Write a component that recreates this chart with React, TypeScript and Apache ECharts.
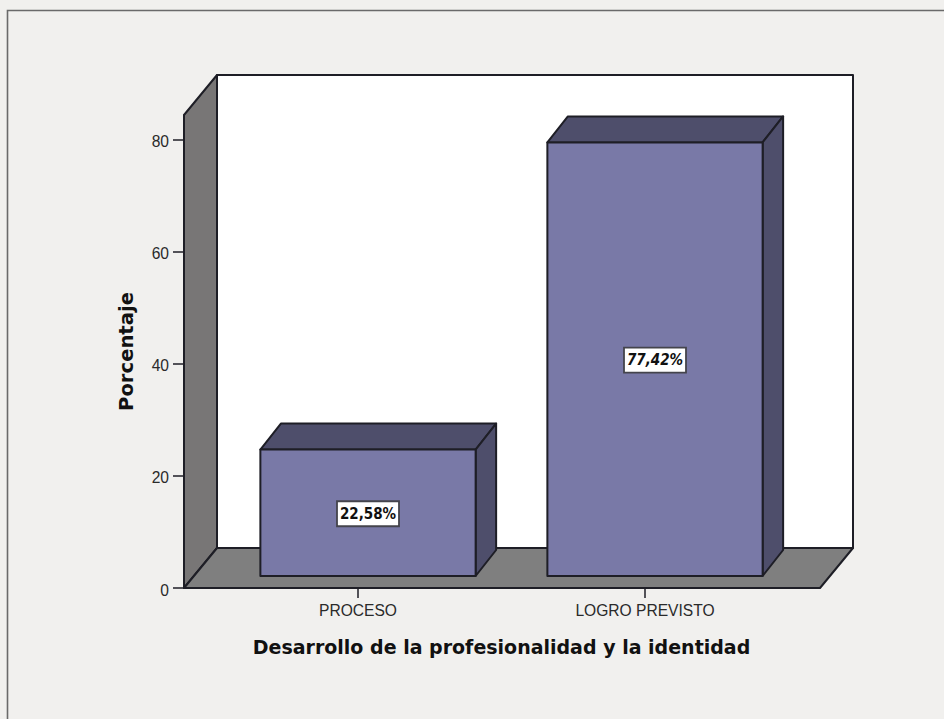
import React, { useEffect, useRef } from "react";
import * as echarts from "echarts";

const categories = ["PROCESO", "LOGRO PREVISTO"];
const values = [22.58, 77.42];
const valueLabels = ["22,58%", "77,42%"];
const labelItalic = [false, true];
const yTicks = [0, 20, 40, 60, 80];
const yMax = 84.46;
const xTitle = "Desarrollo de la profesionalidad y la identidad";
const yTitle = "Porcentaje";

const INK = "#1e1e26";
const WALL_DX = 33;
const WALL_DY = -40;
const BAR_DX = 20.5;
const BAR_DY = -26;
const BAR_LIFT = 12;
const BAR_SHIFT = 10;
const BAR_FRACTION = 0.75;

function renderBox(params: any, api: any) {
  const c = params.coordSys;
  const left = c.x - 30.5;
  const right = c.x + c.width + 31.5;
  const bottom = api.coord([0, 0])[1];
  const top = api.coord([0, api.value(1)])[1];
  const line = { stroke: INK, lineWidth: 2, lineJoin: "round" };
  return {
    type: "group",
    children: [
      {
        type: "polygon",
        shape: { points: [[left + WALL_DX, top + WALL_DY], [right + WALL_DX, top + WALL_DY], [right + WALL_DX, bottom + WALL_DY], [left + WALL_DX, bottom + WALL_DY]] },
        style: { fill: "#ffffff", ...line },
      },
      {
        type: "polygon",
        shape: { points: [[left, top], [left + WALL_DX, top + WALL_DY], [left + WALL_DX, bottom + WALL_DY], [left, bottom]] },
        style: { fill: "#787676", ...line },
      },
      {
        type: "polygon",
        shape: { points: [[left, bottom], [right, bottom], [right + WALL_DX, bottom + WALL_DY], [left + WALL_DX, bottom + WALL_DY]] },
        style: { fill: "#7f7f7f", ...line },
      },
    ],
  };
}

function renderBar(params: any, api: any) {
  const i = api.value(0);
  const [cx, yBase] = api.coord([i, 0]);
  const yTop = api.coord([i, api.value(1)])[1] - BAR_LIFT;
  const bottom = yBase - BAR_LIFT;
  const w = api.size([1, 0])[0] * BAR_FRACTION;
  const l = cx + BAR_SHIFT - w / 2;
  const r = l + w;
  const line = { stroke: INK, lineWidth: 2, lineJoin: "round" };
  const mx = (l + r) / 2;
  const my = (yTop + bottom) / 2 + 1;
  return {
    type: "group",
    children: [
      {
        type: "polygon",
        shape: { points: [[l, yTop], [r, yTop], [r + BAR_DX, yTop + BAR_DY], [l + BAR_DX, yTop + BAR_DY]] },
        style: { fill: "#4e4e6b", ...line },
      },
      {
        type: "polygon",
        shape: { points: [[r, yTop], [r + BAR_DX, yTop + BAR_DY], [r + BAR_DX, bottom + BAR_DY], [r, bottom]] },
        style: { fill: "#4e4e6b", ...line },
      },
      {
        type: "rect",
        shape: { x: l, y: yTop, width: w, height: bottom - yTop },
        style: { fill: "#7979a7", ...line },
      },
      {
        type: "rect",
        shape: { x: mx - 31, y: my - 12.5, width: 62, height: 25 },
        style: { fill: "#ffffff", stroke: "#44444c", lineWidth: 1.8 },
      },
      {
        type: "text",
        style: {
          x: mx,
          y: my,
          text: valueLabels[i],
          align: "center",
          verticalAlign: "middle",
          fill: "#111111",
          font: `${labelItalic[i] ? "italic " : ""}bold 15px "DejaVu Sans Condensed"`,
        },
      },
    ],
  };
}

export default function App() {
  const ref = useRef<HTMLDivElement>(null);
  useEffect(() => {
    const chart = echarts.init(ref.current!, undefined, { renderer: "svg" });
    chart.setOption({
      animation: false,
      backgroundColor: "#f1f0ee",
      graphic: [
        {
          type: "rect",
          shape: { x: 7.5, y: 10.5, width: 960, height: 740 },
          style: { fill: "transparent", stroke: "#6a6a6a", lineWidth: 1.6 },
          silent: true,
        },
      ],
      grid: { left: 214.5, top: 115, width: 574, height: 473 },
      xAxis: {
        type: "category",
        data: categories,
        axisLine: { show: false },
        axisTick: { show: true, alignWithLabel: true, length: 10, lineStyle: { color: INK, width: 1.5 } },
        axisLabel: { color: "#2a2a2a", fontFamily: "Liberation Sans", fontSize: 15.6, margin: 14 },
        name: xTitle,
        nameLocation: "middle",
        nameGap: 49,
        nameTextStyle: { color: "#111111", fontFamily: "DejaVu Sans", fontWeight: "bold", fontSize: 19 },
      },
      yAxis: {
        type: "value",
        min: 0,
        max: yMax,
        offset: 30.5,
        splitLine: { show: false },
        axisLine: { show: true, lineStyle: { color: INK, width: 1.5 } },
        axisTick: { show: true, length: 11, customValues: yTicks, lineStyle: { color: INK, width: 1.5 } },
        axisLabel: {
          color: "#2a2a2a",
          fontFamily: "Liberation Sans",
          fontSize: 15.6,
          margin: 15,
          customValues: yTicks,
          formatter: "{v|{value}}",
          rich: { v: { color: "#2a2a2a", fontFamily: "Liberation Sans", fontSize: 15.6, padding: [4, 0, 0, 0] } },
        },
        name: yTitle,
        nameLocation: "middle",
        nameGap: 46,
        nameTextStyle: { color: "#111111", fontFamily: "DejaVu Sans", fontWeight: "bold", fontSize: 19.6, padding: [0, 0, 2, 0] },
      },
      series: [
        { type: "custom", renderItem: renderBox, data: [[0, yMax]], z: 1, silent: true },
        { type: "custom", renderItem: renderBar, data: values.map((v, i) => [i, v]), z: 2, silent: true },
      ],
    });
    return () => chart.dispose();
  }, []);
  return <div ref={ref} style={{ position: "absolute", left: 0, top: 0, width: 944, height: 719 }} />;
}
